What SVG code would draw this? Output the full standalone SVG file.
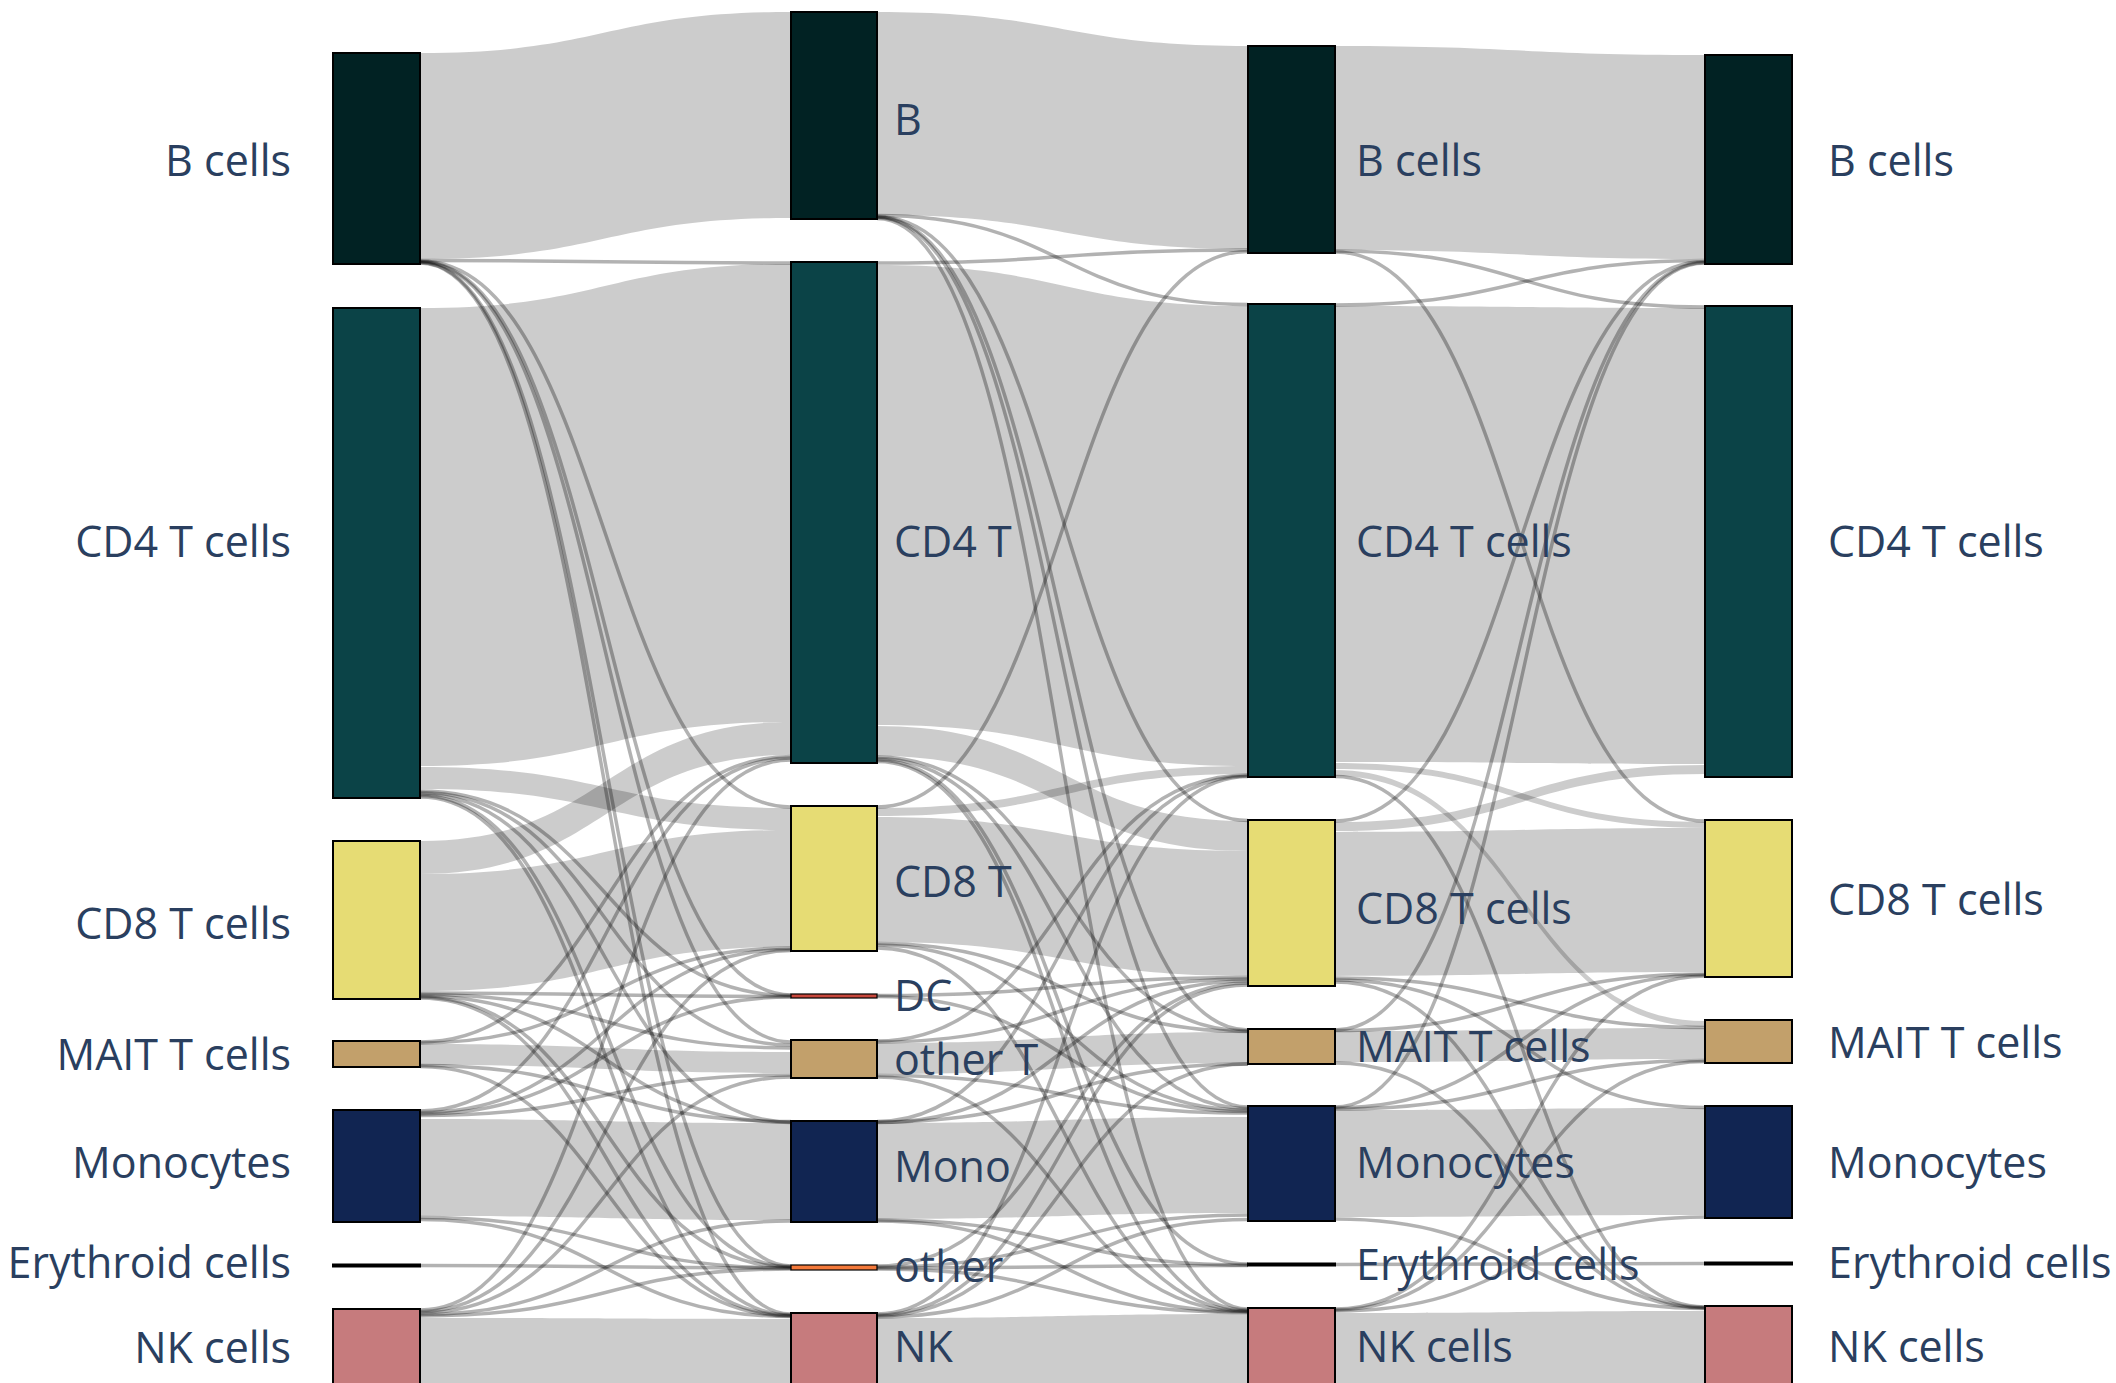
<svg xmlns="http://www.w3.org/2000/svg" width="2116" height="1383" viewBox="0 0 2116 1383">
<style>
.lk{fill:#000;fill-opacity:0.2;stroke:none}
.th{fill:none;stroke:#000;stroke-opacity:0.3;stroke-width:3.5}
.nd{stroke:#000;stroke-width:2}
.nt{stroke:#000;stroke-width:1.2}
.lb{font-family:"Open Sans","Noto Sans","Liberation Sans",sans-serif;font-size:43px;fill:#2a3f5f}
.l1{text-anchor:end}
.cB{fill:#012223}.cCD4{fill:#0b4347}.cCD8{fill:#e6dc74}.cMAIT{fill:#c2a06b}.cMono{fill:#112552}.cEry{fill:#000}.cNK{fill:#c67b7d}.cDC{fill:#c8483c}.cOth{fill:#f4793a}
</style>
<rect width="2116" height="1383" fill="#fff"/>
<g id="links">
<!-- col1 -> col2 ribbons -->
<path class="lk" d="M420,53 C605.5,53 605.5,12 791,12 L791,218 C605.5,218 605.5,259 420,259 Z"/>
<path class="lk" d="M420,308 C605.5,308 605.5,264 791,264 L791,722 C605.5,722 605.5,766 420,766 Z"/>
<path class="lk" d="M420,767 C605.5,767 605.5,808 791,808 L791,830 C605.5,830 605.5,789 420,789 Z"/>
<path class="lk" d="M420,841 C605.5,841 605.5,722 791,722 L791,755 C605.5,755 605.5,874 420,874 Z"/>
<path class="lk" d="M420,874 C605.5,874 605.5,830 791,830 L791,947 C605.5,947 605.5,991 420,991 Z"/>
<path class="lk" d="M420,1044 C605.5,1044 605.5,1052 791,1052 L791,1073 C605.5,1073 605.5,1065 420,1065 Z"/>
<path class="lk" d="M420,1119 C605.5,1119 605.5,1123 791,1123 L791,1220 C605.5,1220 605.5,1216 420,1216 Z"/>
<path class="lk" d="M420,1318 C605.5,1318 605.5,1319 791,1319 L791,1400 L420,1400 Z"/>
<!-- col1 -> col2 thin -->
<path class="th" d="M420,260.5 C605.5,260.5 605.5,263 791,263"/>
<path class="th" d="M420,261 C605.5,261 605.5,807 791,807"/>
<path class="th" d="M420,261.5 C605.5,261.5 605.5,995 791,995"/>
<path class="th" d="M420,262 C605.5,262 605.5,1042 791,1042"/>
<path class="th" d="M420,262.5 C605.5,262.5 605.5,1266 791,1266"/>
<path class="th" d="M420,263 C605.5,263 605.5,1314 791,1314"/>
<path class="th" d="M420,791 C605.5,791 605.5,995.5 791,995.5"/>
<path class="th" d="M420,792.5 C605.5,792.5 605.5,1045 791,1045"/>
<path class="th" d="M420,794 C605.5,794 605.5,1122 791,1122"/>
<path class="th" d="M420,795.5 C605.5,795.5 605.5,1266.5 791,1266.5"/>
<path class="th" d="M420,797 C605.5,797 605.5,1315 791,1315"/>
<path class="th" d="M420,993 C605.5,993 605.5,996.5 791,996.5"/>
<path class="th" d="M420,994.5 C605.5,994.5 605.5,1048 791,1048"/>
<path class="th" d="M420,996 C605.5,996 605.5,1122.5 791,1122.5"/>
<path class="th" d="M420,997 C605.5,997 605.5,1267 791,1267"/>
<path class="th" d="M420,998 C605.5,998 605.5,1315.5 791,1315.5"/>
<path class="th" d="M420,1042 C605.5,1042 605.5,756.5 791,756.5"/>
<path class="th" d="M420,1043 C605.5,1043 605.5,948 791,948"/>
<path class="th" d="M420,1065.5 C605.5,1065.5 605.5,1121.5 791,1121.5"/>
<path class="th" d="M420,1066.5 C605.5,1066.5 605.5,1316 791,1316"/>
<path class="th" d="M420,1111 C605.5,1111 605.5,758 791,758"/>
<path class="th" d="M420,1112.5 C605.5,1112.5 605.5,949.5 791,949.5"/>
<path class="th" d="M420,1114 C605.5,1114 605.5,997 791,997"/>
<path class="th" d="M420,1115.5 C605.5,1115.5 605.5,1075 791,1075"/>
<path class="th" d="M420,1217.5 C605.5,1217.5 605.5,1268 791,1268"/>
<path class="th" d="M420,1219.5 C605.5,1219.5 605.5,1316.5 791,1316.5"/>
<path class="th" d="M420,1265.5 C605.5,1265.5 605.5,1268 791,1268"/>
<path class="th" d="M420,1310 C605.5,1310 605.5,760 791,760"/>
<path class="th" d="M420,1311.5 C605.5,1311.5 605.5,950.5 791,950.5"/>
<path class="th" d="M420,1313 C605.5,1313 605.5,1077 791,1077"/>
<path class="th" d="M420,1314.5 C605.5,1314.5 605.5,1221 791,1221"/>
<path class="th" d="M420,1316 C605.5,1316 605.5,1269 791,1269"/>
<!-- col2 -> col3 ribbons -->
<path class="lk" d="M877,12 C1062.5,12 1062.5,46 1248,46 L1248,249 C1062.5,249 1062.5,215 877,215 Z"/>
<path class="lk" d="M877,265 C1062.5,265 1062.5,306 1248,306 L1248,766 C1062.5,766 1062.5,725 877,725 Z"/>
<path class="lk" d="M877,726 C1062.5,726 1062.5,821 1248,821 L1248,851 C1062.5,851 1062.5,756 877,756 Z"/>
<path class="lk" d="M877,808 C1062.5,808 1062.5,766 1248,766 L1248,774 C1062.5,774 1062.5,816 877,816 Z"/>
<path class="lk" d="M877,817 C1062.5,817 1062.5,851 1248,851 L1248,976 C1062.5,976 1062.5,942 877,942 Z"/>
<path class="lk" d="M877,1043 C1062.5,1043 1062.5,1032 1248,1032 L1248,1063 C1062.5,1063 1062.5,1074 877,1074 Z"/>
<path class="lk" d="M877,1123 C1062.5,1123 1062.5,1117 1248,1117 L1248,1213 C1062.5,1213 1062.5,1219 877,1219 Z"/>
<path class="lk" d="M877,1318 C1062.5,1318 1062.5,1314 1248,1314 L1248,1400 L877,1400 Z"/>
<!-- col2 -> col3 thin -->
<path class="th" d="M877,215.5 C1062.5,215.5 1062.5,304.5 1248,304.5"/>
<path class="th" d="M877,216.5 C1062.5,216.5 1062.5,820.5 1248,820.5"/>
<path class="th" d="M877,217 C1062.5,217 1062.5,1030 1248,1030"/>
<path class="th" d="M877,217.5 C1062.5,217.5 1062.5,1107 1248,1107"/>
<path class="th" d="M877,218.5 C1062.5,218.5 1062.5,1309 1248,1309"/>
<path class="th" d="M877,263 C1062.5,263 1062.5,250 1248,250"/>
<path class="th" d="M877,757 C1062.5,757 1062.5,1031 1248,1031"/>
<path class="th" d="M877,758.5 C1062.5,758.5 1062.5,1108.5 1248,1108.5"/>
<path class="th" d="M877,760 C1062.5,760 1062.5,1264 1248,1264"/>
<path class="th" d="M877,761.5 C1062.5,761.5 1062.5,1310 1248,1310"/>
<path class="th" d="M877,807 C1062.5,807 1062.5,251.5 1248,251.5"/>
<path class="th" d="M877,943.5 C1062.5,943.5 1062.5,1031.5 1248,1031.5"/>
<path class="th" d="M877,945 C1062.5,945 1062.5,1110 1248,1110"/>
<path class="th" d="M877,948 C1062.5,948 1062.5,1311 1248,1311"/>
<path class="th" d="M877,995.5 C1062.5,995.5 1062.5,977.5 1248,977.5"/>
<path class="th" d="M877,996.5 C1062.5,996.5 1062.5,1111.5 1248,1111.5"/>
<path class="th" d="M877,1041 C1062.5,1041 1062.5,775 1248,775"/>
<path class="th" d="M877,1042 C1062.5,1042 1062.5,979 1248,979"/>
<path class="th" d="M877,1075.5 C1062.5,1075.5 1062.5,1113 1248,1113"/>
<path class="th" d="M877,1077 C1062.5,1077 1062.5,1311.5 1248,1311.5"/>
<path class="th" d="M877,1121.5 C1062.5,1121.5 1062.5,776 1248,776"/>
<path class="th" d="M877,1122.5 C1062.5,1122.5 1062.5,981 1248,981"/>
<path class="th" d="M877,1122 C1062.5,1122 1062.5,1064 1248,1064"/>
<path class="th" d="M877,1220 C1062.5,1220 1062.5,1265 1248,1265"/>
<path class="th" d="M877,1221 C1062.5,1221 1062.5,1312 1248,1312"/>
<path class="th" d="M877,1266 C1062.5,1266 1062.5,983 1248,983"/>
<path class="th" d="M877,1267 C1062.5,1267 1062.5,1215 1248,1215"/>
<path class="th" d="M877,1268 C1062.5,1268 1062.5,1265.5 1248,1265.5"/>
<path class="th" d="M877,1269 C1062.5,1269 1062.5,1312.5 1248,1312.5"/>
<path class="th" d="M877,1314 C1062.5,1314 1062.5,776.5 1248,776.5"/>
<path class="th" d="M877,1315 C1062.5,1315 1062.5,985 1248,985"/>
<path class="th" d="M877,1316 C1062.5,1316 1062.5,1064 1248,1064"/>
<path class="th" d="M877,1317 C1062.5,1317 1062.5,1219.5 1248,1219.5"/>
<!-- col3 -> col4 ribbons -->
<path class="lk" d="M1335,46 C1520,46 1520,55 1705,55 L1705,259 C1520,259 1520,250 1335,250 Z"/>
<path class="lk" d="M1335,306 C1520,306 1520,308 1705,308 L1705,764 C1520,764 1520,762 1335,762 Z"/>
<path class="lk" d="M1335,763 C1520,763 1520,822 1705,822 L1705,828 C1520,828 1520,769 1335,769 Z"/>
<path class="lk" d="M1335,770 C1520,770 1520,1021 1705,1021 L1705,1027 C1520,1027 1520,776 1335,776 Z"/>
<path class="lk" d="M1335,822 C1520,822 1520,765 1705,765 L1705,774 C1520,774 1520,831 1335,831 Z"/>
<path class="lk" d="M1335,832 C1520,832 1520,828 1705,828 L1705,972 C1520,972 1520,976 1335,976 Z"/>
<path class="lk" d="M1335,1031 C1520,1031 1520,1028 1705,1028 L1705,1059 C1520,1059 1520,1062 1335,1062 Z"/>
<path class="lk" d="M1335,1110 C1520,1110 1520,1108 1705,1108 L1705,1215 C1520,1215 1520,1217 1335,1217 Z"/>
<path class="lk" d="M1335,1313 C1520,1313 1520,1311 1705,1311 L1705,1400 L1335,1400 Z"/>
<!-- col3 -> col4 thin -->
<path class="th" d="M1335,251 C1520,251 1520,307 1705,307"/>
<path class="th" d="M1335,252 C1520,252 1520,821 1705,821"/>
<path class="th" d="M1335,305 C1520,305 1520,260.5 1705,260.5"/>
<path class="th" d="M1335,776.5 C1520,776.5 1520,1307 1705,1307"/>
<path class="th" d="M1335,821 C1520,821 1520,261.5 1705,261.5"/>
<path class="th" d="M1335,978 C1520,978 1520,1027.5 1705,1027.5"/>
<path class="th" d="M1335,980 C1520,980 1520,1107.5 1705,1107.5"/>
<path class="th" d="M1335,982 C1520,982 1520,1307.5 1705,1307.5"/>
<path class="th" d="M1335,1030 C1520,1030 1520,262.5 1705,262.5"/>
<path class="th" d="M1335,1030.5 C1520,1030.5 1520,974 1705,974"/>
<path class="th" d="M1335,1063 C1520,1063 1520,1308 1705,1308"/>
<path class="th" d="M1335,1107 C1520,1107 1520,263 1705,263"/>
<path class="th" d="M1335,1108 C1520,1108 1520,975 1705,975"/>
<path class="th" d="M1335,1109 C1520,1109 1520,1060.5 1705,1060.5"/>
<path class="th" d="M1335,1219 C1520,1219 1520,1308.5 1705,1308.5"/>
<path class="th" d="M1335,1264.5 C1520,1264.5 1520,1263.5 1705,1263.5"/>
<path class="th" d="M1335,1309 C1520,1309 1520,976 1705,976"/>
<path class="th" d="M1335,1310 C1520,1310 1520,1061.5 1705,1061.5"/>
<path class="th" d="M1335,1311 C1520,1311 1520,1217 1705,1217"/>
</g>
<g id="col1">
<g id="n1-B"><rect class="nd cB" x="333" y="53" width="87" height="211"/><text class="lb l1" x="291" y="176">B cells</text></g>
<g id="n1-CD4"><rect class="nd cCD4" x="333" y="308" width="87" height="490"/><text class="lb l1" x="291" y="557">CD4 T cells</text></g>
<g id="n1-CD8"><rect class="nd cCD8" x="333" y="841" width="87" height="158"/><text class="lb l1" x="291" y="939">CD8 T cells</text></g>
<g id="n1-MAIT"><rect class="nd cMAIT" x="333" y="1041" width="87" height="26"/><text class="lb l1" x="291" y="1070">MAIT T cells</text></g>
<g id="n1-Mono"><rect class="nd cMono" x="333" y="1110" width="87" height="112"/><text class="lb l1" x="291" y="1178">Monocytes</text></g>
<g id="n1-Ery"><rect class="nd cEry" x="333" y="1264.5" width="87" height="2"/><text class="lb l1" x="291" y="1278">Erythroid cells</text></g>
<g id="n1-NK"><rect class="nd cNK" x="333" y="1309" width="87" height="100"/><text class="lb l1" x="291" y="1363">NK cells</text></g>
</g>
<g id="col2">
<g id="n2-B"><rect class="nd cB" x="791" y="12" width="86" height="207"/><text class="lb" x="894" y="135">B</text></g>
<g id="n2-CD4"><rect class="nd cCD4" x="791" y="262" width="86" height="501"/><text class="lb" x="894" y="557">CD4 T</text></g>
<g id="n2-CD8"><rect class="nd cCD8" x="791" y="806" width="86" height="145"/><text class="lb" x="894" y="897">CD8 T</text></g>
<g id="n2-DC"><rect class="nt cDC" x="791" y="994" width="86" height="4"/><text class="lb" x="894" y="1011">DC</text></g>
<g id="n2-oT"><rect class="nd cMAIT" x="791" y="1040" width="86" height="38"/><text class="lb" x="894" y="1075">other T</text></g>
<g id="n2-Mono"><rect class="nd cMono" x="791" y="1121" width="86" height="101"/><text class="lb" x="894" y="1182">Mono</text></g>
<g id="n2-other"><rect class="nt cOth" x="791" y="1265" width="86" height="5"/><text class="lb" x="894" y="1282">other</text></g>
<g id="n2-NK"><rect class="nd cNK" x="791" y="1313" width="86" height="100"/><text class="lb" x="894" y="1362">NK</text></g>
</g>
<g id="col3">
<g id="n3-B"><rect class="nd cB" x="1248" y="46" width="87" height="207"/><text class="lb" x="1356" y="176">B cells</text></g>
<g id="n3-CD4"><rect class="nd cCD4" x="1248" y="304" width="87" height="473"/><text class="lb" x="1356" y="557">CD4 T cells</text></g>
<g id="n3-CD8"><rect class="nd cCD8" x="1248" y="820" width="87" height="166"/><text class="lb" x="1356" y="924">CD8 T cells</text></g>
<g id="n3-MAIT"><rect class="nd cMAIT" x="1248" y="1029" width="87" height="35"/><text class="lb" x="1356" y="1062">MAIT T cells</text></g>
<g id="n3-Mono"><rect class="nd cMono" x="1248" y="1106" width="87" height="115"/><text class="lb" x="1356" y="1178">Monocytes</text></g>
<g id="n3-Ery"><rect class="nd cEry" x="1248" y="1263.5" width="87" height="2"/><text class="lb" x="1356" y="1280">Erythroid cells</text></g>
<g id="n3-NK"><rect class="nd cNK" x="1248" y="1308" width="87" height="100"/><text class="lb" x="1356" y="1362">NK cells</text></g>
</g>
<g id="col4">
<g id="n4-B"><rect class="nd cB" x="1705" y="55" width="87" height="209"/><text class="lb" x="1828" y="176">B cells</text></g>
<g id="n4-CD4"><rect class="nd cCD4" x="1705" y="306" width="87" height="471"/><text class="lb" x="1828" y="557">CD4 T cells</text></g>
<g id="n4-CD8"><rect class="nd cCD8" x="1705" y="820" width="87" height="157"/><text class="lb" x="1828" y="915">CD8 T cells</text></g>
<g id="n4-MAIT"><rect class="nd cMAIT" x="1705" y="1020" width="87" height="43"/><text class="lb" x="1828" y="1058">MAIT T cells</text></g>
<g id="n4-Mono"><rect class="nd cMono" x="1705" y="1106" width="87" height="112"/><text class="lb" x="1828" y="1178">Monocytes</text></g>
<g id="n4-Ery"><rect class="nd cEry" x="1705" y="1262.5" width="87" height="2"/><text class="lb" x="1828" y="1278">Erythroid cells</text></g>
<g id="n4-NK"><rect class="nd cNK" x="1705" y="1306" width="87" height="100"/><text class="lb" x="1828" y="1362">NK cells</text></g>
</g>
</svg>
